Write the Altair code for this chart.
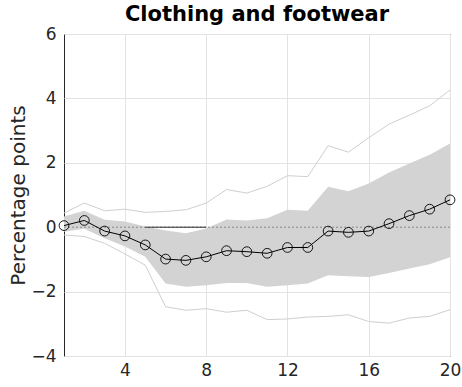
import altair as alt
import pandas as pd

horizon = list(range(1, 21))
median = [0.05, 0.21, -0.12, -0.27, -0.55, -0.99, -1.03, -0.92, -0.73, -0.76,
          -0.81, -0.63, -0.63, -0.12, -0.16, -0.12, 0.11, 0.36, 0.56, 0.85]
band_upper = [0.33, 0.51, 0.23, 0.18, 0.02, -0.10, -0.19, -0.04, 0.24, 0.21,
              0.28, 0.54, 0.51, 1.26, 1.12, 1.36, 1.70, 1.98, 2.25, 2.60]
band_lower = [-0.14, -0.05, -0.34, -0.60, -0.92, -1.75, -1.85, -1.80, -1.73, -1.73,
              -1.85, -1.80, -1.75, -1.49, -1.52, -1.55, -1.42, -1.28, -1.15, -0.93]
outer_upper = [0.44, 0.75, 0.51, 0.56, 0.46, 0.49, 0.54, 0.75, 1.17, 1.06,
               1.27, 1.60, 1.57, 2.53, 2.33, 2.78, 3.20, 3.48, 3.77, 4.26]
outer_lower = [-0.24, -0.29, -0.50, -0.83, -1.18, -2.47, -2.58, -2.53, -2.64, -2.58,
               -2.87, -2.85, -2.79, -2.77, -2.72, -2.93, -2.98, -2.82, -2.77, -2.56]
zero_segment_x = [5, 8]
zero_segment_y = [0, 0]
x_ticks = [4, 8, 12, 16, 20]
y_ticks = [-4, -2, 0, 2, 4, 6]

df = pd.DataFrame({
    "h": horizon, "median": median,
    "bl": band_lower, "bu": band_upper,
    "ol": outer_lower, "ou": outer_upper,
})
seg = pd.DataFrame({"h": zero_segment_x, "v": zero_segment_y})

FONT = "DejaVu Sans"
xs = alt.Scale(domain=[1, 20], nice=False, zero=False)
ys = alt.Scale(domain=[-4, 6], nice=False, zero=False)

x_axis = alt.Axis(values=x_ticks, title=None, grid=True, ticks=False, domain=False,
                  labelPadding=6, labelFlush=False, labelFont=FONT, labelFontSize=17,
                  labelColor="#262626")
y_axis = alt.Axis(values=y_ticks, title="Percentage points", grid=True, ticks=False,
                  domain=False, labelPadding=8, titleX=-46, titleY=161,
                  titleAngle=-90, titleAlign="center", titleBaseline="middle",
                  labelFlush=False, labelFont=FONT, labelFontSize=17,
                  labelColor="#262626", titleFont=FONT, titleFontSize=20,
                  titleFontWeight="normal", titleColor="#262626")

base = alt.Chart(df)

band = base.mark_area(color="#d3d3d3", opacity=1).encode(
    x=alt.X("h:Q", scale=xs, axis=x_axis),
    y=alt.Y("bl:Q", scale=ys, axis=y_axis),
    y2="bu:Q",
)
outer_u = base.mark_line(color="#cfcfcf", strokeWidth=1).encode(
    x=alt.X("h:Q", scale=xs), y=alt.Y("ou:Q", scale=ys))
outer_l = base.mark_line(color="#cfcfcf", strokeWidth=1).encode(
    x=alt.X("h:Q", scale=xs), y=alt.Y("ol:Q", scale=ys))
zero = alt.Chart(pd.DataFrame({"z": [0]})).mark_rule(
    color="#888888", strokeDash=[2, 2], strokeWidth=1).encode(y=alt.Y("z:Q", scale=ys))
zero_seg = alt.Chart(seg).mark_line(color="#333333", strokeWidth=1).encode(
    x=alt.X("h:Q", scale=xs), y=alt.Y("v:Q", scale=ys))
line = base.mark_line(color="black", strokeWidth=1).encode(
    x=alt.X("h:Q", scale=xs), y=alt.Y("median:Q", scale=ys))
pts = base.mark_point(shape="circle", filled=False, color="black", size=95,
                      strokeWidth=0.9, opacity=1).encode(
    x=alt.X("h:Q", scale=xs), y=alt.Y("median:Q", scale=ys))

chart = alt.layer(band, outer_u, outer_l, zero, zero_seg, line, pts).properties(
    width=386, height=322,
    background="white",
    title=alt.TitleParams("Clothing and footwear", font=FONT, fontSize=21,
                          fontWeight="bold", color="#000000", anchor="middle",
                          offset=0),
    autosize=alt.AutoSizeParams(type="none"),
    padding={"left": 64, "top": 34, "right": 12, "bottom": 31},
).configure_view(
    stroke="#262626", strokeWidth=1
).configure_axis(
    gridColor="#e3e3e3", gridWidth=1, zindex=1,
)

chart.save("out.html", embed_options={"renderer": "svg", "actions": False})
